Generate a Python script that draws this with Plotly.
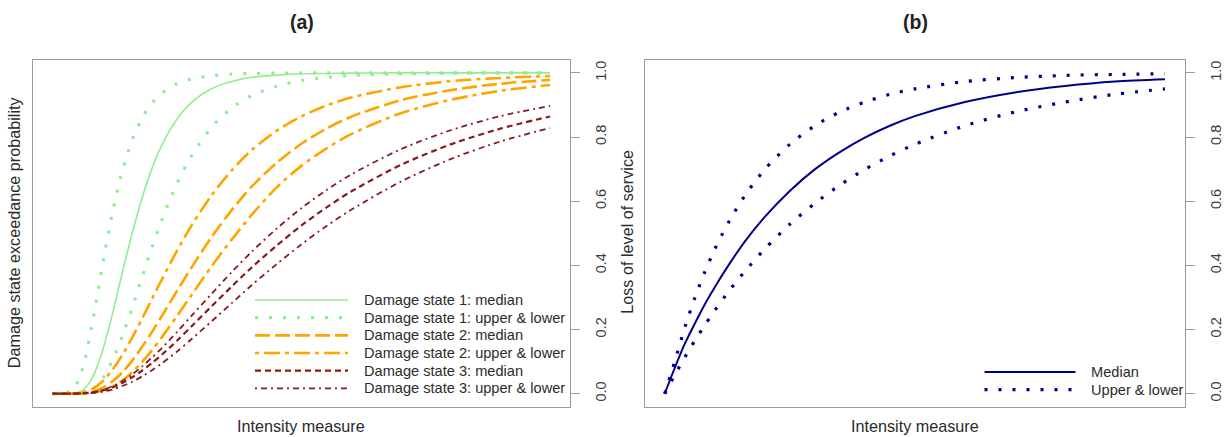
import plotly.graph_objects as go

W, H = 1231, 437

# ---------------- data: panel (a) fragility curves ----------------
XA = [0, 0.04, 0.06, 0.08, 0.10, 0.12, 0.14, 0.16, 0.18, 0.20, 0.22, 0.25,
      0.28, 0.32, 0.36, 0.40, 0.45, 0.50, 0.55, 0.60, 0.70, 0.80, 0.90, 1.00]

DS1_UPPER = [0, 0.010, 0.078, 0.222, 0.398, 0.562, 0.694, 0.791, 0.859, 0.906, 0.937, 0.966,
             0.981, 0.991, 0.996, 0.998, 0.999, 1.0, 1.0, 1.0, 1.0, 1.0, 1.0, 1.0]
DS1_MEDIAN = [0, 0.001, 0.010, 0.050, 0.132, 0.247, 0.376, 0.500, 0.611, 0.703, 0.776, 0.856,
              0.909, 0.951, 0.973, 0.986, 0.993, 0.997, 0.998, 0.999, 1.0, 1.0, 1.0, 1.0]
DS1_LOWER = [0, 0.000, 0.002, 0.014, 0.046, 0.102, 0.179, 0.268, 0.363, 0.457, 0.543, 0.655,
             0.744, 0.831, 0.890, 0.929, 0.958, 0.976, 0.986, 0.992, 0.997, 0.999, 1.0, 1.0]

DS2_UPPER = [0, 0.000, 0.004, 0.015, 0.038, 0.074, 0.120, 0.175, 0.234, 0.296, 0.357, 0.445,
             0.526, 0.619, 0.696, 0.759, 0.819, 0.864, 0.898, 0.923, 0.955, 0.974, 0.984, 0.990]
DS2_MEDIAN = [0, 0.000, 0.001, 0.006, 0.018, 0.038, 0.066, 0.103, 0.146, 0.193, 0.243, 0.320,
              0.395, 0.489, 0.572, 0.645, 0.719, 0.779, 0.826, 0.863, 0.915, 0.946, 0.966, 0.978]
DS2_LOWER = [0, 0.000, 0.001, 0.003, 0.010, 0.022, 0.041, 0.067, 0.099, 0.136, 0.177, 0.242,
             0.309, 0.398, 0.480, 0.557, 0.642, 0.710, 0.764, 0.809, 0.874, 0.916, 0.944, 0.962]

DS3_UPPER = [0, 0.000, 0.001, 0.004, 0.011, 0.023, 0.039, 0.060, 0.085, 0.113, 0.143, 0.192,
             0.244, 0.312, 0.379, 0.442, 0.514, 0.578, 0.634, 0.683, 0.762, 0.821, 0.865, 0.897]
DS3_MEDIAN = [0, 0.000, 0.001, 0.004, 0.010, 0.019, 0.033, 0.051, 0.072, 0.096, 0.122, 0.165,
              0.211, 0.273, 0.334, 0.393, 0.461, 0.524, 0.580, 0.630, 0.713, 0.777, 0.826, 0.864]
DS3_LOWER = [0, 0.000, 0.001, 0.002, 0.006, 0.013, 0.024, 0.037, 0.054, 0.073, 0.095, 0.131,
             0.171, 0.226, 0.282, 0.338, 0.403, 0.465, 0.522, 0.573, 0.661, 0.731, 0.786, 0.828]

# ---------------- data: panel (b) loss of level of service ----------------
XB = [0, 0.02, 0.04, 0.06, 0.08, 0.10, 0.13, 0.16, 0.20, 0.25, 0.30, 0.35, 0.40,
      0.45, 0.50, 0.60, 0.70, 0.80, 0.90, 1.00]
LOS_MEDIAN = [0, 0.080, 0.155, 0.218, 0.278, 0.332, 0.406, 0.474, 0.551, 0.632, 0.699, 0.753, 0.798,
              0.835, 0.865, 0.909, 0.939, 0.959, 0.973, 0.980]
LOS_UPPER = [0, 0.100, 0.205, 0.298, 0.379, 0.450, 0.541, 0.617, 0.699, 0.777, 0.835, 0.878, 0.909,
             0.933, 0.950, 0.973, 0.985, 0.992, 0.995, 0.997]
LOS_LOWER = [0, 0.058, 0.113, 0.165, 0.213, 0.259, 0.323, 0.381, 0.451, 0.528, 0.593, 0.650, 0.699,
             0.741, 0.777, 0.835, 0.878, 0.909, 0.933, 0.950]

TICK_VALS = [0, 0.2, 0.4, 0.6, 0.8, 1.0]
TICK_TEXT = ["0.0", "0.2", "0.4", "0.6", "0.8", "1.0"]

LEGEND_A = ["Damage state 1: median", "Damage state 1: upper & lower",
            "Damage state 2: median", "Damage state 2: upper & lower",
            "Damage state 3: median", "Damage state 3: upper & lower"]
LEGEND_B = ["Median", "Upper & lower"]

PANEL_TITLES = ["(a)", "(b)"]
X_TITLE = "Intensity measure"
Y_TITLES = ["Damage state exceedance probability", "Loss of level of service"]

# ---------------- styles ----------------
GREEN, ORANGE, DRED, NAVY = "#90EE90", "#FFA500", "#8B1A1A", "#00008B"
FONT = "Liberation Sans, Arial, sans-serif"
TXT = "#2b2b2b"
BOX = "#9c9c9c"

STY_A = [
    dict(color=GREEN, width=1.6, dash="solid"),
    dict(color=GREEN, width=3.2, dash="3px,11px"),
    dict(color=ORANGE, width=2.6, dash="15px,5px"),
    dict(color=ORANGE, width=2.6, dash="4px,5px,16px,5px"),
    dict(color=DRED, width=2.2, dash="6px,4px"),
    dict(color=DRED, width=1.8, dash="2px,4px,6px,4px"),
]
STY_B = [
    dict(color=NAVY, width=2.0, dash="solid"),
    dict(color=NAVY, width=3.2, dash="3px,11px"),
]

fig = go.Figure()

series_a = [
    (DS1_MEDIAN, 0), (DS1_UPPER, 1), (DS1_LOWER, 1),
    (DS2_MEDIAN, 2), (DS2_UPPER, 3), (DS2_LOWER, 3),
    (DS3_MEDIAN, 4), (DS3_UPPER, 5), (DS3_LOWER, 5),
]
for ys, k in series_a:
    fig.add_trace(go.Scatter(x=XA, y=ys, mode="lines", line=dict(**STY_A[k], shape="spline", smoothing=0.8),
                             name=LEGEND_A[k], showlegend=False, hoverinfo="skip",
                             xaxis="x", yaxis="y"))

series_b = [(LOS_MEDIAN, 0), (LOS_UPPER, 1), (LOS_LOWER, 1)]
for ys, k in series_b:
    fig.add_trace(go.Scatter(x=XB, y=ys, mode="lines", line=dict(**STY_B[k], shape="spline", smoothing=0.8),
                             name=LEGEND_B[k], showlegend=False, hoverinfo="skip",
                             xaxis="x2", yaxis="y2"))

# panel boxes (pixels)
A_L, A_R = 32.7, 570.0
B_L, B_R = 644.7, 1185.0
TOP, BOT = 60.0, 406.5

def px(v):
    return v / W

def py(v):
    return 1 - v / H

yd = [py(BOT), py(TOP)]

xax = dict(range=[-0.04, 1.04], showticklabels=False, ticks="", showgrid=False, zeroline=False,
           showline=True, linecolor=BOX, linewidth=1, mirror=True, fixedrange=True)
yax = dict(range=[-0.04, 1.04], side="right", tickvals=TICK_VALS, ticktext=TICK_TEXT,
           ticks="outside", ticklen=9, tickcolor=BOX, tickwidth=1, tickangle=-90,
           ticklabelstandoff=9,
           tickfont=dict(family=FONT, size=14.5, color="#3c3c3c"),
           showgrid=False, zeroline=False, showline=True, linecolor=BOX, linewidth=1,
           mirror=True, fixedrange=True)

fig.update_layout(
    width=W, height=H, margin=dict(l=0, r=0, t=0, b=0),
    paper_bgcolor="white", plot_bgcolor="white", showlegend=False,
    xaxis=dict(domain=[px(A_L), px(A_R)], anchor="y", **xax),
    yaxis=dict(domain=yd, anchor="x", **yax),
    xaxis2=dict(domain=[px(B_L), px(B_R)], anchor="y2", **xax),
    yaxis2=dict(domain=yd, anchor="x2", **yax),
    font=dict(family=FONT, color=TXT),
)

annotations = []
shapes = []
centers = [(A_L + A_R) / 2, (B_L + B_R) / 2]
ytitle_x = [14.0, 627.5]
for i in range(2):
    annotations.append(dict(text="<b>%s</b>" % PANEL_TITLES[i], x=px(centers[i] + 1), y=py(21.7),
                            xref="paper", yref="paper", showarrow=False, xanchor="center",
                            yanchor="middle", font=dict(family=FONT, size=19.5, color="#222222")))
    annotations.append(dict(text=X_TITLE, x=px(centers[i]), y=py(426), xref="paper", yref="paper",
                            showarrow=False, xanchor="center", yanchor="middle",
                            font=dict(family=FONT, size=16.2, color=TXT)))
    annotations.append(dict(text=Y_TITLES[i], x=px(ytitle_x[i]), y=py((TOP + BOT) / 2 - 1),
                            xref="paper", yref="paper", showarrow=False, textangle=-90,
                            xanchor="center", yanchor="middle",
                            font=dict(family=FONT, size=16.2, color=TXT)))

# legend keys (a)
LEG_A_ROW0, LEG_A_DY = 300.0, 17.67
for i, name in enumerate(LEGEND_A):
    yy = py(LEG_A_ROW0 + i * LEG_A_DY)
    shapes.append(dict(type="line", xref="paper", yref="paper", x0=px(255), x1=px(348), y0=yy, y1=yy,
                       line=STY_A[i]))
    annotations.append(dict(text=name, x=px(361.5), y=yy, xref="paper", yref="paper", showarrow=False,
                            xanchor="left", yanchor="middle", font=dict(family=FONT, size=14.6, color=TXT)))

# legend keys (b)
LEG_B_ROW0, LEG_B_DY = 372.0, 17.7
for i, name in enumerate(LEGEND_B):
    yy = py(LEG_B_ROW0 + i * LEG_B_DY)
    shapes.append(dict(type="line", xref="paper", yref="paper", x0=px(984.5), x1=px(1075.5), y0=yy, y1=yy,
                       line=STY_B[i]))
    annotations.append(dict(text=name, x=px(1089), y=yy, xref="paper", yref="paper", showarrow=False,
                            xanchor="left", yanchor="middle", font=dict(family=FONT, size=14.6, color=TXT)))

fig.update_layout(annotations=annotations, shapes=shapes)

fig.write_html("out.html", config={"displayModeBar": False, "staticPlot": True},
               post_script="document.body.style.margin='0';document.body.style.overflow='hidden';")
